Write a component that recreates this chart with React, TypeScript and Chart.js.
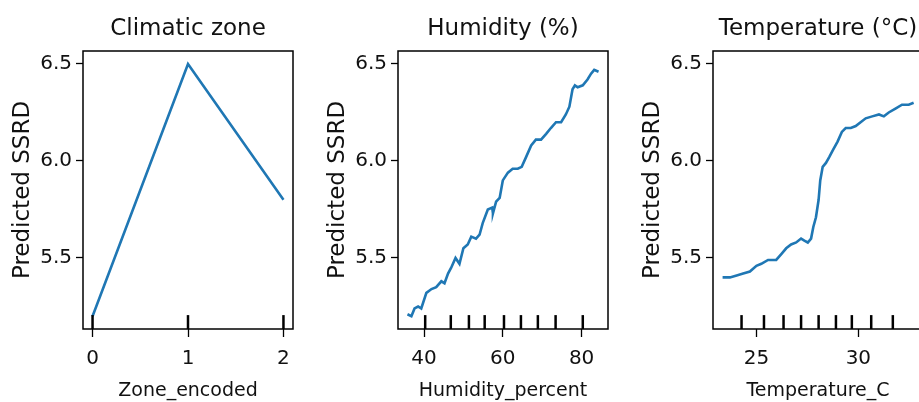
import React, { useEffect, useRef } from "react";
import { Chart, registerables } from "chart.js";

Chart.register(...registerables);

// ---------- data ----------
const zoneX = [0, 1, 2];
const zoneY = [5.2, 6.5, 5.8];
const zoneDeciles = [0, 1, 2];
const zoneTicks = [0, 1, 2];

const humidityX = [
  35.8, 36.8, 37.6, 38.5, 39.3, 40.6, 41.9, 43.1, 44.4, 45.2, 46.1, 46.9, 48.0, 49.0,
  50.0, 51.1, 52.0, 53.2, 54.1, 54.9, 56.2, 57.3, 57.5, 58.3, 59.2, 60.0, 61.3, 62.5,
  63.8, 64.8, 65.9, 67.2, 68.4, 69.7, 71.0, 72.2, 73.5, 74.8, 76.0, 76.9, 77.7, 78.3,
  79.0, 80.3, 81.5, 82.4, 83.2, 84.3,
];
const humidityY = [
  5.21, 5.2, 5.24, 5.25, 5.24, 5.32, 5.34, 5.35, 5.38, 5.37, 5.42, 5.45, 5.5, 5.47,
  5.55, 5.57, 5.61, 5.6, 5.62, 5.68, 5.75, 5.76, 5.73, 5.79, 5.81, 5.9, 5.94, 5.96,
  5.96, 5.97, 6.02, 6.08, 6.11, 6.11, 6.14, 6.17, 6.2, 6.2, 6.24, 6.28, 6.37, 6.39,
  6.38, 6.39, 6.42, 6.45, 6.47, 6.46,
];
const humidityDeciles = [40.3, 46.8, 51.4, 55.4, 60.3, 64.6, 68.9, 73.4, 80.3];
const humidityTicks = [40, 60, 80];

const temperatureX = [
  23.34, 23.7, 24.03, 24.35, 24.68, 25.0, 25.24, 25.57, 25.81, 25.97, 26.22, 26.46,
  26.7, 26.95, 27.19, 27.35, 27.52, 27.68, 27.79, 27.92, 28.05, 28.13, 28.25, 28.41,
  28.57, 28.77, 28.98, 29.19, 29.38, 29.63, 29.87, 30.11, 30.36, 30.68, 31.01, 31.25,
  31.49, 31.82, 32.14, 32.47, 32.71,
];
const temperatureY = [
  5.4, 5.4, 5.41, 5.42, 5.43, 5.46, 5.47, 5.49, 5.49, 5.49, 5.52, 5.55, 5.57, 5.58,
  5.6, 5.59, 5.58, 5.6, 5.66, 5.71, 5.8, 5.9, 5.97, 5.99, 6.02, 6.06, 6.1, 6.15, 6.17,
  6.17, 6.18, 6.2, 6.22, 6.23, 6.24, 6.23, 6.25, 6.27, 6.29, 6.29, 6.3,
];
const temperatureDeciles = [24.27, 25.37, 26.33, 27.19, 28.05, 28.9, 29.68, 30.63, 31.69];
const temperatureTicks = [25, 30];

const yTicks = [5.5, 6.0, 6.5];
const yMin = 5.134;
const yMax = 6.567;

const panels = [
  { title: "Climatic zone", xLabel: "Zone_encoded", xs: zoneX, ys: zoneY, deciles: zoneDeciles, ticks: zoneTicks, xMin: -0.1, xMax: 2.1 },
  { title: "Humidity (%)", xLabel: "Humidity_percent", xs: humidityX, ys: humidityY, deciles: humidityDeciles, ticks: humidityTicks, xMin: 33.4, xMax: 86.7 },
  { title: "Temperature (°C)", xLabel: "Temperature_C", xs: temperatureX, ys: temperatureY, deciles: temperatureDeciles, ticks: temperatureTicks, xMin: 22.87, xMax: 33.17 },
];

const FONT = '"DejaVu Sans", sans-serif';
const TEXT = "#111111";
const LINE = "#1f77b4";

const framePlugin = {
  id: "frame",
  afterDatasetsDraw(chart: any) {
    const { ctx, chartArea: a, scales } = chart;
    const p = chart.options.plugins.frame;
    ctx.save();
    const h = (a.bottom - a.top) * 0.05;
    ctx.strokeStyle = "#000";
    ctx.lineWidth = 2.5;
    p.deciles.forEach((d: number) => {
      const x = scales.x.getPixelForValue(d);
      ctx.beginPath();
      ctx.moveTo(x, a.bottom);
      ctx.lineTo(x, a.bottom - h);
      ctx.stroke();
    });
    ctx.lineWidth = 1.5;
    ctx.strokeRect(a.left, a.top, a.right - a.left, a.bottom - a.top);
    ctx.fillStyle = TEXT;
    ctx.font = `23px ${FONT}`;
    ctx.textAlign = "center";
    ctx.textBaseline = "alphabetic";
    ctx.fillText(p.title, (a.left + a.right) / 2, 35);
    ctx.restore();
  },
};

function Panel({ cfg, left }: { cfg: any; left: number }) {
  const ref = useRef<HTMLCanvasElement>(null);
  useEffect(() => {
    const canvas = ref.current!;
    const chart = new Chart(canvas, {
      type: "line",
      data: {
        datasets: [
          {
            data: cfg.xs.map((x: number, i: number) => ({ x, y: cfg.ys[i] })),
            borderColor: LINE,
            borderWidth: 2.6,
            pointRadius: 0,
            tension: 0,
            fill: false,
          },
        ],
      },
      options: {
        responsive: false,
        animation: false,
        events: [],
        layout: { padding: { top: 51, right: 22, bottom: 0, left: 0 } },
        plugins: {
          legend: { display: false },
          tooltip: { enabled: false },
          title: { display: false },
          frame: { deciles: cfg.deciles, title: cfg.title },
        } as any,
        scales: {
          x: {
            type: "linear",
            min: cfg.xMin,
            max: cfg.xMax,
            afterBuildTicks: (s: any) => {
              s.ticks = cfg.ticks.map((v: number) => ({ value: v }));
            },
            afterFit: (s: any) => {
              s.height = 73;
            },
            border: { display: false },
            grid: {
              display: true,
              drawOnChartArea: false,
              drawTicks: true,
              tickLength: 8,
              tickColor: "#000",
              tickWidth: 1.3,
            },
            ticks: {
              color: TEXT,
              font: { family: FONT, size: 20 },
              padding: 10,
              maxRotation: 0,
              callback: (v: any) => String(v),
            },
            title: {
              display: true,
              text: cfg.xLabel,
              color: TEXT,
              font: { family: FONT, size: 19 },
              padding: { top: 0, bottom: 0 },
            },
          },
          y: {
            type: "linear",
            min: yMin,
            max: yMax,
            afterBuildTicks: (s: any) => {
              s.ticks = yTicks.map((v) => ({ value: v }));
            },
            afterFit: (s: any) => {
              s.width = 83;
            },
            border: { display: false },
            grid: {
              display: true,
              drawOnChartArea: false,
              drawTicks: true,
              tickLength: 7,
              tickColor: "#000",
              tickWidth: 1.3,
            },
            ticks: {
              color: TEXT,
              font: { family: FONT, size: 20 },
              padding: 4,
              callback: (v: any) => Number(v).toFixed(1),
            },
            title: {
              display: true,
              text: "Predicted SSRD",
              color: TEXT,
              font: { family: FONT, size: 23 },
              padding: { top: 9, bottom: 0 },
            },
          },
        },
      },
      plugins: [framePlugin as any],
    });
    return () => chart.destroy();
  }, [cfg]);
  return (
    <canvas
      ref={ref}
      width={315}
      height={402}
      style={{ position: "absolute", left, top: 0, width: 315, height: 402 }}
    />
  );
}

export default function App() {
  return (
    <div
      style={{
        position: "fixed",
        left: 0,
        top: 0,
        width: 919,
        height: 402,
        overflow: "hidden",
        background: "#ffffff",
      }}
    >
      {panels.map((p, i) => (
        <Panel key={i} cfg={p} left={i * 315} />
      ))}
    </div>
  );
}
